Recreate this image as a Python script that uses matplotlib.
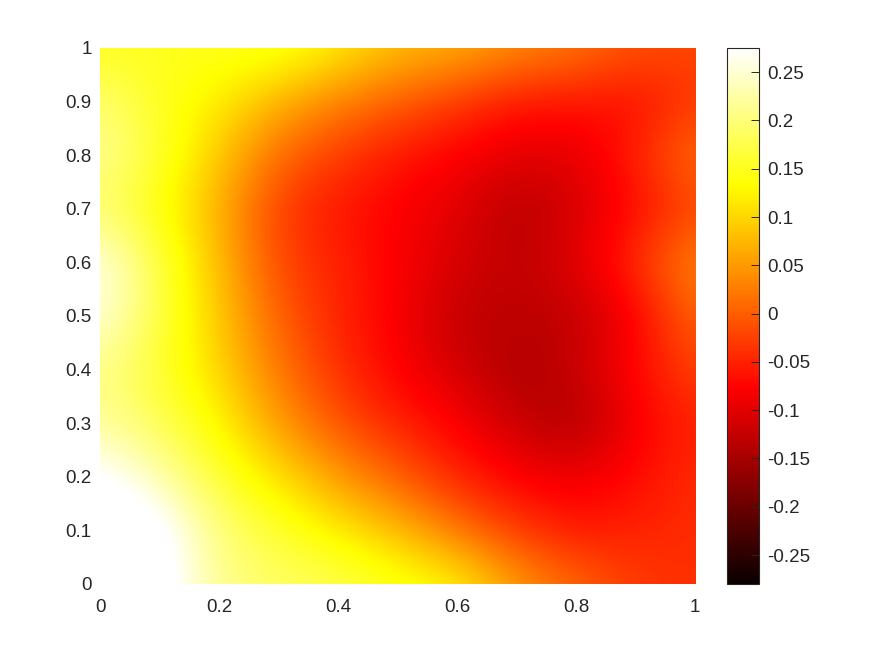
import numpy as np
import matplotlib
matplotlib.use('Agg')
from matplotlib import pyplot as plt

plt.rcParams['font.family'] = ['Liberation Sans', 'DejaVu Sans']

x_ticks = [0, 0.2, 0.4, 0.6, 0.8, 1]
y_ticks = [0, 0.1, 0.2, 0.3, 0.4, 0.5, 0.6, 0.7, 0.8, 0.9, 1]
cb_ticks = [-0.25, -0.2, -0.15, -0.1, -0.05, 0, 0.05, 0.1, 0.15, 0.2, 0.25]
v_min = -0.28
v_max = 0.275

# 值，第一行是 y=1，最后一行是 y=0，每行 x=0..1
row_y100 = [0.15, 0.15, 0.15, 0.155, 0.12, 0.08, 0.07, 0.04, 0.02, -0.01, -0.02]
row_y090 = [0.20, 0.15, 0.12, 0.07, 0.03, 0.00, -0.03, -0.06, -0.06, -0.07, -0.03]
row_y080 = [0.22, 0.16, 0.09, 0.01, -0.03, -0.06, -0.08, -0.10, -0.10, -0.05, 0.02]
row_y070 = [0.19, 0.14, 0.07, -0.03, -0.06, -0.08, -0.10, -0.14, -0.11, -0.07, -0.02]
row_y060 = [0.27, 0.17, 0.08, -0.02, -0.05, -0.08, -0.11, -0.13, -0.10, -0.04, 0.04]
row_y050 = [0.26, 0.17, 0.09, 0.00, -0.05, -0.08, -0.13, -0.13, -0.13, -0.08, 0.01]
row_y040 = [0.21, 0.16, 0.10, 0.02, -0.04, -0.08, -0.11, -0.15, -0.12, -0.07, -0.02]
row_y030 = [0.22, 0.18, 0.13, 0.05, -0.01, -0.05, -0.08, -0.12, -0.15, -0.08, -0.05]
row_y020 = [0.29, 0.23, 0.16, 0.11, 0.05, 0.00, -0.05, -0.08, -0.09, -0.07, -0.04]
row_y010 = [0.32, 0.30, 0.20, 0.16, 0.12, 0.08, 0.02, -0.03, -0.06, -0.05, -0.04]
row_y000 = [0.40, 0.30, 0.21, 0.19, 0.18, 0.15, 0.13, 0.05, 0.01, -0.03, -0.04]

z = np.array([row_y100, row_y090, row_y080, row_y070, row_y060, row_y050,
              row_y040, row_y030, row_y020, row_y010, row_y000])

W, H = 875, 656
fig = plt.figure(figsize=(W / 100, H / 100), dpi=100)
ax = fig.add_axes([100 / W, 1 - 584 / H, 595 / W, 536 / H])
im = ax.imshow(z, cmap='hot', vmin=v_min, vmax=v_max, aspect='auto',
               extent=(-0.05, 1.05, -0.05, 1.05), origin='upper',
               interpolation='bicubic', interpolation_stage='data')
ax.set_xlim(0, 1)
ax.set_ylim(0, 1)
ax.set_xticks(x_ticks, [f'{t:g}' for t in x_ticks])
ax.set_yticks(y_ticks, [f'{t:g}' for t in y_ticks])
ax.tick_params(axis='x', length=0, labelsize=13.5, labelcolor='#262626', pad=11)
ax.tick_params(axis='y', length=0, labelsize=13.5, labelcolor='#262626', pad=6)
for s in ax.spines.values():
    s.set_visible(False)

# 颜色条
cax = fig.add_axes([727 / W, 1 - 584 / H, 32 / W, 536 / H])
cb = fig.colorbar(im, cax=cax)
cb.set_ticks(cb_ticks, labels=[f'{t:g}' for t in cb_ticks])
cb.ax.tick_params(length=5.5, direction='in', width=0.7, color='#262626',
                  labelsize=13.5, labelcolor='#262626', pad=6)
cb.outline.set_linewidth(0.8)
cb.outline.set_edgecolor('#262626')

fig.savefig('out.png', dpi=100)
